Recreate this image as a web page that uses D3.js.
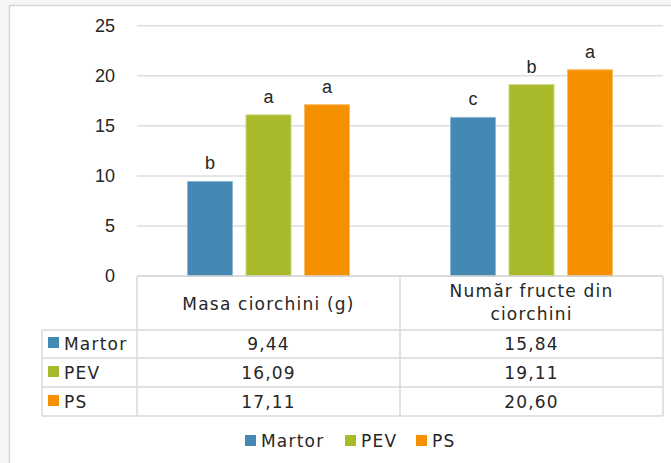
<!DOCTYPE html>
<html>
<head>
<meta charset="utf-8">
<script src="https://cdn.jsdelivr.net/npm/d3@7"></script>
<style>
  html, body { margin: 0; padding: 0; background: #f6f6f6; }
  svg { display: block; }
</style>
</head>
<body>
<svg id="chart" width="671" height="463"></svg>
<script>
// ---- data ----
const categories = ["Masa ciorchini (g)", "Număr fructe din ciorchini"];
const categoryLines = [["Masa ciorchini (g)"], ["Număr fructe din", "ciorchini"]];
const seriesNames = ["Martor", "PEV", "PS"];
const martorValues = [9.44, 15.84];
const pevValues = [16.09, 19.11];
const psValues = [17.11, 20.60];
const martorLetters = ["b", "c"];
const pevLetters = ["a", "b"];
const psLetters = ["a", "a"];
const yTicks = [0, 5, 10, 15, 20, 25];
const seriesColors = ["#4389B4", "#A8B92A", "#F59100"];
const seriesStroke = ["#8DB8D4", "#CCD67C", "#F9BC6A"];

const seriesValues = [martorValues, pevValues, psValues];
const seriesLetters = [martorLetters, pevLetters, psLetters];

const svg = d3.select("#chart");
const fmt = d3.formatLocale({decimal: ",", thousands: ".", grouping: [3], currency: ["", ""]}).format(".2f");

// chart area background + frame
svg.append("rect").attr("x", 9.5).attr("y", 5.5).attr("width", 680).attr("height", 480)
  .attr("fill", "#ffffff").attr("stroke", "#d6d6d6").attr("stroke-width", 1.5);

const plotLeft = 137, plotRight = 663, plotBottom = 276, plotTop = 25.7;
const y = d3.scaleLinear().domain([0, 25]).range([plotBottom, plotTop]);
const x0 = d3.scaleBand().domain(categories).range([plotLeft, plotRight]);
const x1 = d3.scaleBand().domain(seriesNames).range([50, 213]).paddingInner(0.2137);

// gridlines
svg.append("g").selectAll("line").data(yTicks.filter(t => t > 0)).join("line")
  .attr("x1", plotLeft).attr("x2", plotRight)
  .attr("y1", d => y(d)).attr("y2", d => y(d))
  .attr("stroke", "#dedede").attr("stroke-width", 1.5);

// y tick labels
svg.append("g").selectAll("text").data(yTicks).join("text")
  .attr("x", 115).attr("y", d => y(d)).attr("dy", "0.36em")
  .attr("text-anchor", "end")
  .attr("font-family", "Liberation Sans, Arial, sans-serif")
  .attr("font-size", 18).attr("fill", "#262626")
  .text(d => d);

// bars
const groups = svg.append("g").selectAll("g").data(categories).join("g")
  .attr("transform", d => `translate(${x0(d)},0)`);

groups.each(function(cat, ci) {
  const g = d3.select(this);
  seriesNames.forEach((s, si) => {
    const v = seriesValues[si][ci];
    g.append("rect")
      .attr("x", x1(s) + 0.5).attr("width", x1.bandwidth() - 1)
      .attr("y", y(v)).attr("height", y(0) - y(v))
      .attr("fill", seriesColors[si]).attr("stroke", seriesStroke[si]).attr("stroke-width", 1);
    g.append("text")
      .attr("x", x1(s) + x1.bandwidth() / 2).attr("y", y(v) - 12)
      .attr("text-anchor", "middle")
      .attr("font-family", "Liberation Sans, Arial, sans-serif")
      .attr("font-size", 18).attr("fill", "#262626")
      .text(seriesLetters[si][ci]);
  });
});

// data table
const rowTops = [330, 358, 387, 416];
const tableLeft = 42;
const lineColor = "#d9d9d9";
const tbl = svg.append("g");
// axis line (top of header)
tbl.append("line").attr("x1", plotLeft).attr("x2", plotRight).attr("y1", plotBottom).attr("y2", plotBottom)
  .attr("stroke", "#d0d0d0").attr("stroke-width", 1.5);
// horizontal lines
tbl.selectAll("line.h").data(rowTops).join("line").attr("class", "h")
  .attr("x1", tableLeft).attr("x2", plotRight)
  .attr("y1", d => d).attr("y2", d => d)
  .attr("stroke", lineColor).attr("stroke-width", 1.5);
// vertical lines
const vx = [plotLeft].concat(categories.map(c => x0(c) + x0.bandwidth()));
tbl.selectAll("line.v").data(vx).join("line").attr("class", "v")
  .attr("x1", d => d).attr("x2", d => d)
  .attr("y1", plotBottom).attr("y2", rowTops[3])
  .attr("stroke", lineColor).attr("stroke-width", 1.5);
tbl.append("line").attr("x1", tableLeft).attr("x2", tableLeft)
  .attr("y1", rowTops[0]).attr("y2", rowTops[3])
  .attr("stroke", lineColor).attr("stroke-width", 1.5);

const tableFont = "DejaVu Sans, Verdana, sans-serif";
const tableSize = 17, tableSpacing = 1.2;
// header texts
categories.forEach((c, ci) => {
  const lines = categoryLines[ci];
  const cx = x0(c) + x0.bandwidth() / 2;
  const baselines = lines.length === 1 ? [310] : [297, 320];
  lines.forEach((ln, li) => {
    tbl.append("text").attr("x", cx).attr("y", baselines[li])
      .attr("text-anchor", "middle").attr("font-family", tableFont)
      .attr("font-size", tableSize).attr("letter-spacing", tableSpacing).attr("fill", "#262626")
      .text(ln);
  });
});

// rows
const rowBaselines = [350, 379, 408];
seriesNames.forEach((s, si) => {
  tbl.append("rect").attr("x", 48).attr("y", rowBaselines[si] - 13).attr("width", 11).attr("height", 11)
    .attr("fill", seriesColors[si]);
  tbl.append("text").attr("x", 64).attr("y", rowBaselines[si])
    .attr("font-family", tableFont).attr("font-size", tableSize).attr("letter-spacing", tableSpacing).attr("fill", "#262626")
    .text(s);
  categories.forEach((c, ci) => {
    tbl.append("text").attr("x", x0(c) + x0.bandwidth() / 2).attr("y", rowBaselines[si])
      .attr("text-anchor", "middle")
      .attr("font-family", tableFont).attr("font-size", tableSize).attr("letter-spacing", tableSpacing).attr("fill", "#262626")
      .text(fmt(seriesValues[si][ci]));
  });
});

// legend
const legendX = [245, 345, 416];
const leg = svg.append("g");
seriesNames.forEach((s, si) => {
  leg.append("rect").attr("x", legendX[si]).attr("y", 435).attr("width", 11).attr("height", 11)
    .attr("fill", seriesColors[si]);
  leg.append("text").attr("x", legendX[si] + 16).attr("y", 447)
    .attr("font-family", tableFont).attr("font-size", tableSize).attr("letter-spacing", tableSpacing).attr("fill", "#262626")
    .text(s);
});
</script>
</body>
</html>
